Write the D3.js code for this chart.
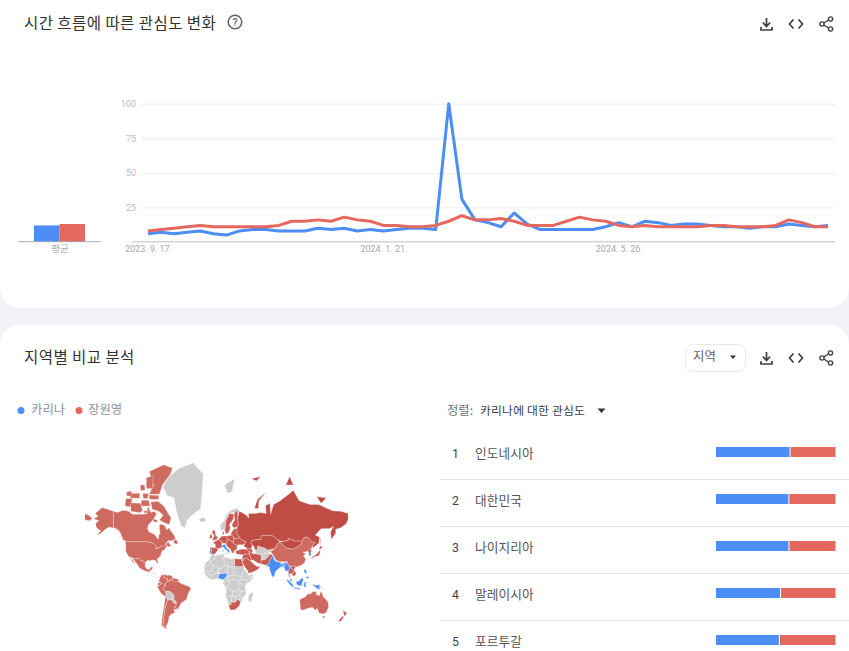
<!DOCTYPE html>
<html><head><meta charset="utf-8">
<script src="https://cdn.jsdelivr.net/npm/d3@7"></script>
<style>
html,body{margin:0;padding:0;background:#f1f3f8;overflow:hidden}
svg{display:block}
text{font-family:"Noto Sans CJK KR","Noto Sans",sans-serif}
.num{font-family:Roboto,"Noto Sans CJK KR",sans-serif}
</style></head><body><div id="chart"></div>
<script>
const seriesNames = ["카리나","장원영"];
const firstWeek = "2023-09-17";
const dateTicks = ["2023-09-17","2024-01-21","2024-05-26"];
const yTicks = [25,50,75,100];
const karina = [6,7,6,7,8,6,5,8,9,9,8,8,8,10,9,10,8,9,8,9,10,10,9,100,31,16,14,11,21,13,9,9,9,9,9,11,14,11,15,14,12,13,13,12,11,11,10,11,11,13,12,11,12];
const wonyoung = [8,9,10,11,12,11,11,11,11,11,12,15,15,16,15,18,16,15,12,12,11,11,12,15,19,16,16,17,15,12,12,12,15,18,16,15,12,11,12,11,11,11,11,12,12,11,11,11,12,16,14,11,11];
const averages = [12,13];
const regionNames = ["인도네시아","대한민국","나이지리아","말레이시아","포르투갈"];
const karinaShare = [62,61,61,54,53];
const wonyoungShare = [38,39,39,46,47];

// Map rings in lon/lat, grouped by which search leads and how strongly
const blueLand = [
 [[-9.5,37],[-7.4,37],[-6.5,41.5],[-8.8,42]],
 [[7,44],[7,46],[13.7,46.5],[12.3,44.5],[16,41.7],[18.5,40],[16,38],[15,40],[11,42.5],[9,44.3]],
 [[12.5,38],[15.5,38],[15,36.7]],[[8.2,41],[9.7,41],[9.5,39],[8.4,39]],
 [[2.7,6.3],[3,12],[13.5,13.5],[14.5,10],[11.5,6.5],[8.5,4.5],[5,5.5]],
 [[77,35],[74,31],[71,25],[68,23.5],[72.5,21],[73,17],[76,9],[77.5,8],[80,12],[80.5,15.5],[86,20],[89,22],[88,26],[92,26],[97,28],[94,24],[92,22.5],[91.5,25],[88,25],[88,27],[81,28.5],[78.5,31],[78,35]],
 [[88,25],[92,25],[92,21],[89,22]],
 [[92,21],[94,24],[97,28],[98,24],[101,21],[98,16],[98.5,10],[97,17],[94,16],[93,20]],
 [[100,7],[103,4],[104,1.5],[101,3]],
 [[109,1.5],[113,3],[117,7],[119,5],[117.5,1],[116,-4],[111,-3],[109,0]],
 [[95.5,5.5],[98,4],[104,-1.5],[106,-6],[102,-4],[97,2]],
 [[105.5,-6],[111,-6.5],[114.5,-7.5],[114,-8.7],[106,-7.5]],
 [[120,1],[125,1.5],[121,-1],[123,-5],[120,-5.5],[119,-2]],
 [[131,-1],[135,-3],[141,-2.5],[141,-9],[138,-8],[133,-4]],
 [[120,18.5],[122,18],[124,13],[120,14]],[[122,8],[126,9.5],[126,6],[123,6.5]],
 [[126,38],[129,38],[129.5,35.5],[126.5,34.5]]
];
const redDark = [
 [[31,69.7],[41,67.5],[44,66],[44,68.5],[54,68.5],[60,69],[68,68.5],[67,72],[73,73],[74,68],[78,72.5],[87,74],[100,76.5],[105,77.5],[113,74],[128,72.5],[140,72.5],[150,71],[160,69.7],[170,69.5],[180,68.5],[180,65],[177,62.5],[170,60],[163,59],[163,56],[157,51],[156,57],[160,61],[155,59.5],[143,59.3],[135,54.7],[141,53],[140,48],[132,43],[131,45],[135,48.3],[130,49],[125,53],[120,53],[117,49.7],[108,49.5],[98,52],[98,50],[88,49.5],[83,51],[77,54],[71,54.5],[61,54],[61,51],[55,51],[48,50],[47,48],[49,46],[47.5,42],[40,43.5],[37,45],[39,47],[40,49.5],[35,50.5],[32,52.5],[28,56],[28,60],[30,62],[29,66]],
 [[142,54],[143,49],[142.5,46],[142,50]],
 [[52,71],[56,74.5],[68,77],[58,74],[57,70.7]],
 [[95,79],[105,79],[100,81]],[[137,75.5],[150,75],[143,73]],[[48,80.5],[60,81],[55,80]],
 [[47,48],[48,50],[55,51],[61,51],[61,54],[71,54.5],[77,54],[83,51],[87,49],[83,47],[80,42.5],[70,41],[66,43],[61,44],[56,45],[56,41],[52,42],[51,45],[49,46]],
 [[87,49],[91,45.5],[96,43],[105,42],[112,45],[116,47],[117,49.7],[108,49.5],[98,52],[98,50]]
];
const redMid = [
 [[-5.5,50],[1,51.2],[1.5,52.8],[-1,54.5],[-2,56],[-2,57.7],[-5,58.6],[-6,56.5],[-3,54],[-5,52]],
 [[-10,52],[-6,52],[-6,55],[-8.5,55]],
 [[-9,43.5],[-1.8,43.4],[3,42.3],[0,39],[-2,37],[-5.5,36],[-7.4,37],[-6.5,41.5],[-8.8,42]],
 [[-1.8,43.4],[3,42.5],[7.5,43.7],[7,48],[8,49],[2.5,51],[-1.5,49.5],[-4.7,48.5],[-1.2,46]],
 [[2.5,51],[8,49],[7.5,47.6],[13,47.5],[15,51],[14,54],[8.8,54],[7,53.5],[4,52]],
 [[8,57],[10.5,57.5],[10,55],[8.5,55]],
 [[12,60],[13,64.5],[18,68.5],[24,68],[23,65.5],[17.5,62],[19,60],[16.5,56.5],[13,55.5],[11,59]],
 [[24,68],[25,69],[29,70],[29,66],[30,62],[28,60.5],[23,60],[21,62],[25,65]],
 [[14,54],[19,54.5],[23,54],[24,51],[22.5,49],[15,51]],
 [[21,57],[24,59.3],[28,59.5],[28,56],[32,52.5],[24,51.5],[23,54],[19,54.5]],
 [[24,51.5],[32,52.5],[35,50.5],[40,49.5],[39,47],[35,46],[31,46.5],[28,45.5],[22.5,48]],
 [[13,47.5],[15,51],[22.5,49],[22.5,48],[28,45.5],[28,42],[26,41],[24,40.5],[23.5,38],[21,38],[19.5,41.5],[14,45],[13.7,46.5]],
 [[26,40],[30,41],[36,42],[42,41.5],[44.5,39.5],[44.5,37],[36,36],[30,36.3],[27,37]],
 [[40,43.5],[47.5,42],[50,40],[48,38.5],[44.5,39.5],[42,41.5]],
 [[44.5,39.5],[48,38.5],[50,37],[54,37],[61,35.5],[61,25],[57,26],[50,30],[48,30],[46,34]],
 [[36,36],[44.5,37],[46,34],[48,30],[46,29],[41,32],[39,32],[35,29.5],[35.5,33]],
 [[35,28],[39,32],[41,32],[46,29],[48,28],[51,25],[55,22],[59.5,22.5],[57,18.5],[52,16],[44,13],[42.8,16.5],[39,21]],
 [[61,30],[66,30],[71,34],[74,37],[77,35],[74,31],[71,25],[68,23.5],[61,25]],
 [[25,31.7],[32,31],[34.5,31.3],[35,28],[37,22],[25,22]],
 [[16.5,-28.5],[20,-28.5],[20,-25],[25,-25.7],[29,-22.3],[31,-22.3],[32.8,-26],[31,-30],[26,-34],[20,-34.8],[18,-33]],
 [[98,16],[101,21],[105,18],[105,14],[102,12],[100,13.5],[100,8],[99,8],[98.5,10]],
 [[102,22],[106,23],[108,21.5],[106,18],[109,13],[106,9],[103,11],[105,14],[105,18],[101,21]],
 [[130.8,34],[136,36],[140,39.5],[141.5,41],[142,39],[140,35],[136,34],[132,33.5]],
 [[130,33.5],[132,33],[131,31],[130,32]],[[140,42],[142,45.5],[145,43.5],[142,42]],
 [[124.5,40],[130,42.7],[129,38],[126,38]],
 [[173,-35],[178.5,-38],[175,-41.5],[174,-39]],[[172.5,-41],[174,-42],[170,-46.5],[166.5,-46]]
];
const redLight = [
 [[-180,68.5],[-175,67.5],[-170,66],[-173,64.5],[-180,65]],
 [[-141,69.6],[-135,69],[-128,70],[-120,69.5],[-115,68],[-108,68],[-100,68],[-95,68.5],[-94,72],[-90,69],[-85,69.5],[-82,68],[-87,65],[-93,62],[-94.5,59],[-92,57],[-85,55.3],[-82,53],[-80,51.3],[-79,52],[-79,54.5],[-77,56],[-78,59],[-78,62.4],[-73,62],[-70,61],[-68,58.5],[-65,60],[-62,57.5],[-58,54.5],[-56,52],[-60,50],[-66,50],[-70,47],[-65,49],[-65,47],[-61,46],[-66,44],[-67,45],[-69,47.3],[-71,45],[-75,45],[-79,43.3],[-83,42],[-82.5,45],[-88,48.2],[-95,49],[-123,49],[-128,51],[-130,54.5],[-135,59],[-141,60]],
 [[-62,66],[-65,62],[-72,63.5],[-78,65],[-73,67.5],[-79,69.5],[-88,70.5],[-90,73.5],[-80,73.8],[-72,71.8],[-66,68.5]],
 [[-117,69.5],[-105,68.8],[-101,69.8],[-104,73],[-118,73.2]],[[-125,71.8],[-118,71.6],[-115,74.8],[-124,74.8]],
 [[-92,76.3],[-78,76.3],[-74,79],[-63,81.5],[-60,82.6],[-72,83.2],[-92,82],[-86,79]],
 [[-92,74.6],[-79,74.5],[-79,75.9],[-92,76]],[[-118,75],[-105,74.9],[-105,76.6],[-118,76.6]],
 [[-103,71.8],[-90.5,72],[-93,74.2],[-103,74.2]],[[-96,78],[-87,78],[-87,81.2],[-96,80.7]],
 [[-100,74.8],[-94,74.8],[-93,76.5],[-101,76.5]],[[-104,77.5],[-98,77.5],[-98,79],[-104,79]],
 [[-123,75.8],[-116,75.6],[-116,77.3],[-123,77]],[[-99,68.7],[-95,68.8],[-95,69.8],[-99,69.8]],
 [[-59,47.7],[-53,46.7],[-53,49],[-56,51.5],[-58,50]],[[-87,64],[-81,63.5],[-81,65],[-86,65.5]],
 [[-128,50.5],[-123.5,48.4],[-125,48.6]],[[-133,54],[-131.5,54],[-131.5,52.5]],
 [[-124.7,48.4],[-123,49],[-95,49],[-88,48],[-84.5,46.5],[-82.5,45],[-83,42],[-79,43],[-75,45],[-71,45],[-69,47.3],[-67,45],[-70,43.5],[-70,41.7],[-74,40.6],[-76,37],[-76,35],[-81,31.5],[-80,26],[-81,25.2],[-83,29],[-85,29.7],[-89,30],[-90,29],[-94,29.6],[-97,27.5],[-97.3,26],[-99.5,27.5],[-101.5,29.8],[-103,29],[-106.5,31.8],[-111,31.3],[-114.8,32.5],[-117.2,32.5],[-120.5,34.5],[-122.5,37.5],[-124.3,40.3],[-124,46]],
 [[-141,69.6],[-141,60],[-135,59],[-130,55],[-134,58],[-140,59.7],[-147,60.5],[-152,59],[-158,56],[-164,54.7],[-158,58],[-162,59],[-165,61],[-165,63],[-161,64.5],[-168,65.6],[-162,67],[-166,68.5],[-156,71.3]],
 [[-114.8,32.5],[-111,31.3],[-106.5,31.8],[-103,29],[-101.5,29.8],[-99.5,27.5],[-97.3,26],[-97.8,22],[-95,18.5],[-91,18.7],[-90.5,21],[-87,21.5],[-88,18],[-91,17],[-92,14.5],[-96,16],[-102,18],[-105.5,20.5],[-109,25.5],[-112.5,29.5]],
 [[-117,32.5],[-115,31],[-110,23],[-112,25],[-115,28]],
 [[-74,-7.5],[-70,-4],[-70,0],[-67,2],[-60,5],[-52,2],[-50,0],[-44,-2.5],[-37,-5],[-35,-8],[-39,-15],[-41,-22],[-48,-26],[-53,-34],[-57.5,-30],[-54.5,-25.5],[-58,-22],[-58,-17],[-60,-14],[-65,-11],[-70,-11]],
 [[-77,8],[-75,11],[-72,12],[-72,7.5],[-67,6],[-67,2],[-70,0],[-70,-4],[-75,0],[-79,2]],
 [[-72,12],[-68,10.5],[-62,10.5],[-60,8],[-60,5],[-64,4],[-67,2],[-67,6],[-72,7.5]],
 [[-60,8],[-57,6],[-52,5],[-52,2],[-56,2],[-60,2]],
 [[-80,0.8],[-75,0],[-77,-3],[-80,-4]],
 [[-81,-5],[-80,-4],[-77,-3],[-75,0],[-70,-4],[-74,-7.5],[-70,-11],[-69,-17],[-70,-18.3],[-76,-14]],
 [[-70,-18.3],[-69,-18],[-67,-22.8],[-70,-32],[-72,-42],[-72,-50],[-68,-54],[-75,-50],[-74,-40],[-71.5,-30]],
 [[-67,-22.8],[-62,-22],[-60,-24.5],[-58,-27],[-54.5,-27],[-58,-34],[-57,-38],[-62,-39],[-65,-42],[-66,-47],[-69,-51],[-68,-54],[-72,-50],[-72,-42],[-70,-32]],
 [[-58,-34],[-53.5,-34],[-57.5,-30]],
 [[74,39.5],[80,42.5],[83,47],[87,49],[91,45.5],[96,43],[105,42],[112,45],[116,47],[117,49.7],[120,53],[125,53],[130,49],[135,48.3],[131,45],[130,42.7],[124.5,40],[121,39],[118,39],[122,37],[119,35],[122,31],[120,26],[114,22.5],[108,21.5],[106,23],[102,22],[98,24],[97,28],[92,28],[86,28],[81,30],[78,35]],
 [[114,-22],[114,-26],[115,-34],[118,-35],[124,-33],[131,-31.5],[135,-34.8],[138,-33],[140,-38],[146,-39],[150,-37.5],[153,-32],[153,-26],[149,-21],[146,-19],[145,-15],[142.5,-11],[141,-17],[136,-15.5],[136.5,-12],[131,-12],[129,-15],[125,-14.5],[122,-18]],
 [[145,-41],[148,-41],[147,-43.5],[146,-43.5]]
];
const noData = [
 [[-73,78.5],[-65,81],[-52,82.5],[-32,83.5],[-18,81.5],[-20,76],[-22,70.5],[-32,68],[-40,65],[-43,60],[-48,61],[-53,67],[-55,70],[-58,75],[-68,76]],
 [[-24,65.5],[-18,66.5],[-14,65],[-19,63.5],[-22,64]],[[11,79],[25,80.5],[21,77],[15,76.7]],
 [[5,62],[10,64],[14,68],[20,70],[28,71],[31,69.7],[25,69],[18,68.5],[13,64.5],[12,60],[10,59],[6,58]],
 [[-70,-11],[-65,-11],[-60,-14],[-58,-17],[-58,-20],[-62,-22],[-67,-22.8],[-69,-18]],
 [[-62,-22],[-58,-20],[-58,-22],[-54.5,-25.5],[-58,-27],[-60,-24.5]],
 [[52,42],[56,41],[56,45],[61,44],[66,43],[70,41],[66,37.5],[61,35.5],[54,37.5]],
 [[61,35.5],[66,37.5],[71,38],[74,37],[71,34],[66,30],[61,30]],
 [[70,41],[80,42.5],[74,39.5],[71,38],[66,37.5]],
 [[-6,35.8],[-2,35],[-1.5,32],[-8.7,28],[-8.7,26],[-13,23],[-13,21.3],[-17,21.3],[-14.5,27],[-10,30],[-9,33]],
 [[-2,35],[9,37],[8,33],[10,30],[11.9,23.5],[6,19],[3,19],[-8.7,27.3],[-8.7,28],[-1.5,32]],
 [[9,37],[11,37],[10.5,33.5],[10,30],[8,33]],
 [[10.5,33.5],[15,32.5],[20,31],[25,31.7],[25,20],[24,19.5],[15,23],[11.9,23.5],[10,30]],
 [[-17,21.3],[-13,21.3],[-13,23],[-8.7,26],[-8.7,27.3],[-5,25],[-6,16],[-12,15],[-16.5,16]],
 [[-12,15],[-6,16],[-5,25],[3,19],[4,15],[0,15],[-3,11],[-8,10.5],[-11.5,12.5]],
 [[4,15],[3,19],[6,19],[11.9,23.5],[15,23],[15.5,17],[13.5,13.5],[3,12]],
 [[15,23],[24,19.5],[24,15],[22,11],[15.5,8],[14,12.5],[15.5,17]],
 [[24,19.5],[25,22],[37,22],[38.5,18],[36,13],[34,9],[28,9.5],[22,11],[24,15]],
 [[14.5,7],[15.5,8],[22,11],[28,9.5],[34,9],[35,5],[30,3.5],[27,5],[18,3.5],[16,3]],
 [[38.5,18],[43,12],[43,11],[48,8],[45,5],[41,4],[35,5],[34,9],[36,13]],
 [[43,11],[51,12],[48,4],[41,-1.5],[41,4],[45,5],[48,8]],
 [[-16.5,16],[-12,15],[-11.5,12.5],[-8,10.5],[-7.5,4.5],[-11,6.5],[-15,11],[-17,14.5]],
 [[-8,10.5],[-3,11],[0,15],[3,12],[2.7,6.3],[-3,5],[-7.5,4.5]],
 [[8.5,4.5],[11.5,6.5],[14.5,10],[13.5,13.5],[14,12.5],[15.5,8],[14.5,7],[16,3],[10,2.3]],
 [[10,2.3],[16,3],[18,3.5],[17.5,-1],[14,-4.8],[12,-5],[9,-1]],
 [[18,3.5],[27,5],[30,3.5],[29.5,-1],[29.5,-6],[30.5,-8],[28,-12.5],[22,-11],[16,-7],[12,-6],[14,-4.8],[17.5,-1]],
 [[30,3.5],[35,5],[41,4],[41,-1.5],[39,-4.5],[34,-1],[29.5,-1]],
 [[29.5,-1],[34,-1],[39,-4.5],[40.3,-10.5],[34.5,-11.5],[30.5,-8],[29.5,-6]],
 [[12,-6],[16,-7],[22,-11],[22,-18],[12,-17.3],[13.5,-11]],
 [[22,-11],[28,-12.5],[30.5,-8],[34.5,-11.5],[33,-15],[28,-16.5],[25,-18],[22,-18]],
 [[34.5,-11.5],[40.3,-10.5],[40,-16],[35,-20],[35.5,-24],[32.8,-26],[31,-22.3],[33,-19],[30,-16],[33,-15]],
 [[25,-18],[28,-16.5],[30,-16],[33,-19],[31,-22.3],[29,-22.3]],
 [[20,-18],[25,-18],[29,-22.3],[25,-25.7],[20,-25]],
 [[12,-17.3],[22,-18],[20,-18],[20,-28.5],[16.5,-28.5],[14.5,-22]],
 [[49,-12],[50,-16],[47,-25],[44,-25],[43.5,-21],[44.5,-16]]
];
const faintLand = [
 [[-92,14.5],[-91,17],[-88,18],[-88,15.8],[-83.5,15],[-83.5,11],[-77.5,8.5],[-78,7.5],[-83,8.3],[-87.5,13]],
 [[-85,22],[-80,23],[-74,20],[-78,20]],[[-74,20],[-69,19.5],[-71,18]],
 [[141,-2.5],[146,-5.5],[150,-10],[146,-8.5],[141,-9]],
 [[121,25],[122,24],[120.8,22],[120,23.5]]
];

const BLUE="#4c8df6", RED="#e5685f", INK="#3c4043";
const width=849,height=651;
const svg=d3.select("#chart").append("svg").attr("width",width).attr("height",height);
svg.append("defs").append("filter").attr("id","soft").append("feGaussianBlur").attr("stdDeviation",0.35);

// cards
svg.append("path").attr("fill","#fff").attr("d",`M0,0H${width}V287.5a20,20 0 0 1 -20,20H20a20,20 0 0 1 -20,-20Z`);
svg.append("path").attr("fill","#fff").attr("d",`M0,${height}V345a20,20 0 0 1 20,-20H${width-20}a20,20 0 0 1 20,20V${height}Z`);

function label(x,y,s,size,fill,anchor,cls){
  return svg.append("text").attr("x",x).attr("y",y).attr("dy","0.36em").attr("font-size",size)
    .attr("fill",fill).attr("text-anchor",anchor||"start").attr("class",cls||null).text(s);
}
label(24,23,"시간 흐름에 따른 관심도 변화",15.5,"#333").attr("letter-spacing",0.45);
label(24,357,"지역별 비교 분석",15.5,"#333").attr("letter-spacing",0.45);

// help icon
svg.append("circle").attr("cx",235).attr("cy",22).attr("r",6.8).attr("fill","none").attr("stroke","#666").attr("stroke-width",1.6);
label(235,22,"?",10.5,"#666","middle","num").attr("font-weight",500);

function icons(y){
  const g=svg.append("g").attr("fill","none").attr("stroke",INK).attr("stroke-width",1.7);
  g.append("path").attr("d",`M766.5,${y-6}V${y+2}M762.8,${y-1.5}L766.5,${y+2.5}L770.2,${y-1.5}M761,${y+3}V${y+6}H772V${y+3}`);
  g.append("path").attr("d",`M793.5,${y-4.5}L789.5,${y}L793.5,${y+4.5}M798.5,${y-4.5}L802.5,${y}L798.5,${y+4.5}`);
  g.append("path").attr("stroke-width",1.4).attr("d",`M830.5,${y-5}L822,${y}L830.5,${y+5}`);
  [[830.5,-5],[822,0],[830.5,5]].forEach(p=>g.append("circle").attr("cx",p[0]).attr("cy",y+p[1]).attr("r",2.1).attr("stroke-width",1.4).attr("fill","#fff"));
}
icons(24); icons(358);

// averages
const yScale=d3.scaleLinear().domain([0,100]).range([242,103.7]);
const avgX=d3.scaleBand().domain(seriesNames).range([34,85]);
svg.append("g").selectAll("rect").data(averages).join("rect")
  .attr("x",(d,i)=>avgX(seriesNames[i])).attr("width",avgX.bandwidth())
  .attr("y",d=>yScale(d)).attr("height",d=>yScale(0)-yScale(d))
  .attr("fill",(d,i)=>i?RED:BLUE);
svg.append("line").attr("x1",18).attr("x2",101).attr("y1",241.7).attr("y2",241.7).attr("stroke","#a9adb5").attr("stroke-width",1);
label(60,248.5,"평균",9.5,"#aaaeb3","middle");

// line chart
const parse=d3.utcParse("%Y-%m-%d"), fmt=d3.utcFormat("%Y. %-m. %-d.");
const weeks=karina.map((d,i)=>d3.utcWeek.offset(parse(firstWeek),i));
const x=d3.scaleUtc().domain(d3.extent(weeks)).range([148,828]);
const yAxis=svg.append("g").attr("transform","translate(835,0)")
  .call(d3.axisLeft(yScale).tickValues(yTicks).tickSize(694).tickPadding(5));
yAxis.select(".domain").remove();
yAxis.selectAll("line").attr("stroke","#ebebeb");
yAxis.selectAll("text").attr("font-size",9).attr("fill","#b9bcc1").style("font-family","Roboto,sans-serif");
const xAxis=svg.append("g").attr("transform","translate(0,242)")
  .call(d3.axisBottom(x).tickValues(dateTicks.map(parse)).tickFormat(fmt).tickSize(0).tickPadding(3.5));
xAxis.select(".domain").remove();
xAxis.selectAll("text").attr("font-size",9).attr("fill","#a6a9ae").style("font-family","Roboto,sans-serif");
svg.append("line").attr("x1",132).attr("x2",835).attr("y1",241.7).attr("y2",241.7).attr("stroke","#d4d4d4").attr("stroke-width",1.6);
const line=d3.line().x((d,i)=>x(weeks[i])).y(d=>yScale(d));
[[karina,BLUE],[wonyoung,RED]].forEach(([s,c])=>svg.append("path").attr("d",line(s))
  .attr("fill","none").attr("stroke",c).attr("stroke-width",3).attr("stroke-linejoin","round"));

// legend
[[21,BLUE,31],[79,RED,88]].forEach((p,i)=>{
  svg.append("circle").attr("cx",p[0]).attr("cy",410.5).attr("r",3.5).attr("fill",p[1]);
  label(p[2],410,seriesNames[i],12.4,"#8d9196");
});

// map
const projection=d3.geoMercator().scale(41.9).translate([216.5,583]);
const ringPath=d3.line().x(d=>projection(d)[0]).y(d=>projection(d)[1]).curve(d3.curveLinearClosed);
const mapG=svg.append("g").attr("stroke","#fff").attr("stroke-opacity",0.75).attr("stroke-width",0.35)
  .attr("stroke-linejoin","round").attr("filter","url(#soft)");
[[noData,"#cdcdcd"],[faintLand,"#efefef"],[redLight,"#cf6a60"],[redMid,"#c95a51"],[redDark,"#c04d45"],[blueLand,BLUE]]
 .forEach(([rings,c])=>mapG.append("g").selectAll("path").data(rings).join("path").attr("d",ringPath).attr("fill",c));

// sort row
label(447,411,"정렬:",12.3,"#70757a");
label(480,410.5,"카리나에 대한 관심도",11.8,"#3c4043").attr("letter-spacing",0.2);
const caret=(cx,cy,r)=>svg.append("path").attr("fill","#333").attr("d",`M${cx-r},${cy-r/2}H${cx+r}L${cx},${cy+r/2+0.5}Z`);
caret(601.5,410.5,4);

// dropdown
svg.append("rect").attr("x",685.5).attr("y",344.5).attr("width",60).attr("height",27).attr("rx",7.5)
  .attr("fill","#fff").attr("stroke","#e8eaed");
label(693,357,"지역",12.4,"#5f6368");
caret(733,357,3);

// ranks
const rowY=d3.scalePoint().domain(regionNames).range([452,640]);
const barX=d3.scaleLinear().domain([0,100]).range([716,835.5]);
const rows=svg.append("g").selectAll("g").data(regionNames).join("g")
  .attr("transform",d=>`translate(0,${rowY(d)})`);
rows.filter((d,i)=>i<4).append("line").attr("x1",440).attr("x2",849).attr("y1",27.5).attr("y2",27.5).attr("stroke","#e6e6e6");
rows.append("text").attr("x",455.5).attr("y",2).attr("dy","0.36em").attr("text-anchor","middle").attr("font-size",12.3).attr("fill","#444").style("font-family","Roboto,sans-serif").text((d,i)=>i+1);
rows.append("text").attr("x",475).attr("y",1.3).attr("dy","0.36em").attr("font-size",12.7).attr("letter-spacing",0.1).attr("fill","#555").text(d=>d);
rows.append("rect").attr("x",barX(0)).attr("y",-5).attr("height",10).attr("fill",BLUE)
  .attr("width",(d,i)=>barX(karinaShare[i])-barX(0)-0.5);
rows.append("rect").attr("x",(d,i)=>barX(karinaShare[i])+0.5).attr("y",-5).attr("height",10).attr("fill",RED)
  .attr("width",(d,i)=>barX(100)-barX(100-wonyoungShare[i])-0.5);
</script></body></html>
